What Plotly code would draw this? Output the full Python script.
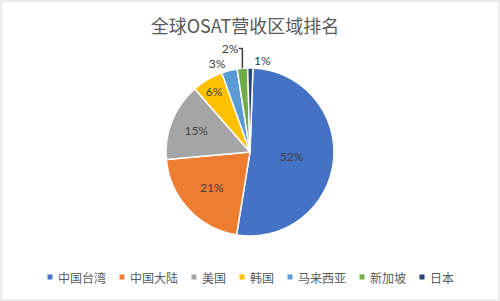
import plotly.graph_objects as go

regions = ["中国台湾", "中国大陆", "美国", "韩国", "马来西亚", "新加坡", "日本"]
shares = [52, 21, 15, 6, 3, 2, 1]
colors = ["#4472C4", "#ED7D31", "#A5A5A5", "#FFC000", "#5B9BD5", "#70AD47", "#264478"]
positions = ["inside", "inside", "inside", "inside", "outside", "outside", "outside"]

W, H = 500, 301

fig = go.Figure(go.Pie(
    labels=regions,
    values=shares,
    sort=False,
    direction="clockwise",
    rotation=2,
    marker=dict(colors=colors, line=dict(color="white", width=1.5)),
    texttemplate="%{value}%",
    textposition=positions,
    insidetextorientation="horizontal",
    textfont=dict(family="Lato, Liberation Sans, sans-serif", size=12, color="#404040"),
    outsidetextfont=dict(family="Lato, Liberation Sans, sans-serif", size=12, color="#404040"),
    domain=dict(x=[0.332, 0.668], y=[0.216, 0.774]),
    showlegend=False,
    hoverinfo="label+percent",
))

# legend built below the pie (single row, compact like the reference)
leg_font = 12
sw, sw_gap, item_gap = 5, 4, 15
leg_y_px = 277
widths = [sw + sw_gap + leg_font * len(r) for r in regions]
total = sum(widths) + item_gap * (len(regions) - 1)
cursor = W / 2 - total / 2
shapes = []
annotations = []
yc = 1 - leg_y_px / H
for r, c, w in zip(regions, colors, widths):
    shapes.append(dict(type="rect", xref="paper", yref="paper",
                       x0=cursor / W, x1=(cursor + sw) / W,
                       y0=yc - (sw / 2) / H, y1=yc + (sw / 2) / H,
                       line=dict(width=0), fillcolor=c))
    annotations.append(dict(text=r, xref="paper", yref="paper",
                            x=(cursor + sw + sw_gap - 1) / W, y=yc,
                            xanchor="left", yanchor="middle", showarrow=False,
                            font=dict(family="Noto Sans CJK SC, sans-serif", size=leg_font, color="#595959")))
    cursor += w + item_gap

shapes.append(dict(type="rect", xref="paper", yref="paper", x0=0.002, x1=0.998, y0=0.003, y1=0.997,
                   line=dict(color="#D9D9D9", width=1), fillcolor="rgba(0,0,0,0)", layer="below"))

fig.update_layout(
    width=W, height=H,
    margin=dict(l=0, r=0, t=0, b=0),
    paper_bgcolor="white",
    plot_bgcolor="white",
    title=dict(
        text="全球OSAT营收区域排名",
        x=0.49, xanchor="center", y=0.91, yanchor="middle",
        font=dict(family="Noto Sans CJK SC, sans-serif", size=18, color="#595959"),
    ),
    shapes=shapes,
    annotations=annotations,
)

fig.write_html("out.html")
